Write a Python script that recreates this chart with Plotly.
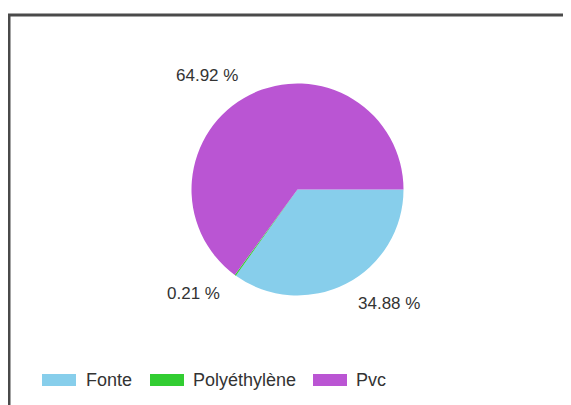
import numpy as np
import plotly.graph_objects as go

# data
labels = ["Fonte", "Polyéthylène", "Pvc"]
values = [34.88, 0.21, 64.92]
colors = ["#87CEEB", "#32CD32", "#BA55D3"]

# page geometry (pixels, screen coords; page body adds an 8px offset)
OFF = 8
W, H = 571 - OFF, 405 - OFF
cx, cy, R = 297.5, 189.5, 106
label_r = 128
legend_swatch_x = [42, 150, 313]
legend_text_x = [85, 192, 355]
legend_y = 380
font = "Liberation Sans, Arial, sans-serif"


def px(x):
    return (x - OFF) / W


def py(y):
    return 1 - (y - OFF) / H


fig = go.Figure()

fig.add_trace(go.Pie(
    labels=labels,
    values=values,
    marker=dict(colors=colors, line=dict(width=0)),
    sort=False,
    direction='clockwise',
    rotation=90,
    textinfo='none',
    hoverinfo='label+percent',
    showlegend=False,
    domain=dict(x=[px(cx - R), px(cx + R)], y=[py(cy + R), py(cy - R)]),
))

# percentage labels outside the slices
vals = np.array(values)
fracs = vals / vals.sum()
start = np.concatenate([[0], np.cumsum(fracs)[:-1]])
annotations = []
for v, f, s in zip(values, fracs, start):
    theta = np.deg2rad(90 + 360 * (s + f / 2))
    lx = cx + label_r * np.sin(theta)
    ly = cy - label_r * np.cos(theta)
    annotations.append(dict(
        x=px(lx), y=py(ly), xref='paper', yref='paper',
        text=f"{v:.2f} %", showarrow=False,
        xanchor='right' if np.sin(theta) < 0 else 'left', yanchor='middle',
        font=dict(family=font, size=17, color='#333333'),
    ))

# legend drawn as swatches + text
shapes = []
for name, c, x0, tx in zip(labels, colors, legend_swatch_x, legend_text_x):
    shapes.append(dict(type='rect', xref='paper', yref='paper',
                       x0=px(x0), x1=px(x0 + 34), y0=py(legend_y + 6), y1=py(legend_y - 6),
                       fillcolor=c, line=dict(width=0)))
    annotations.append(dict(
        x=px(tx), y=py(legend_y), xref='paper', yref='paper',
        text=name, showarrow=False, xanchor='left', yanchor='middle',
        xshift=-1,
        font=dict(family=font, size=18, color='#333333'),
    ))

# frame (top and left edges)
shapes.append(dict(type='line', xref='paper', yref='paper',
                   x0=px(8), x1=1.02, y0=py(15), y1=py(15),
                   line=dict(color='#4a4a4a', width=3)))
shapes.append(dict(type='line', xref='paper', yref='paper',
                   x0=px(9), x1=px(9), y0=py(15), y1=-0.02,
                   line=dict(color='#4a4a4a', width=3)))

fig.update_layout(
    width=W, height=H, autosize=False,
    margin=dict(l=0, r=0, t=0, b=0),
    paper_bgcolor='white',
    plot_bgcolor='white',
    shapes=shapes,
    annotations=annotations,
)

fig.write_html("out.html", config=dict(displayModeBar=False))
